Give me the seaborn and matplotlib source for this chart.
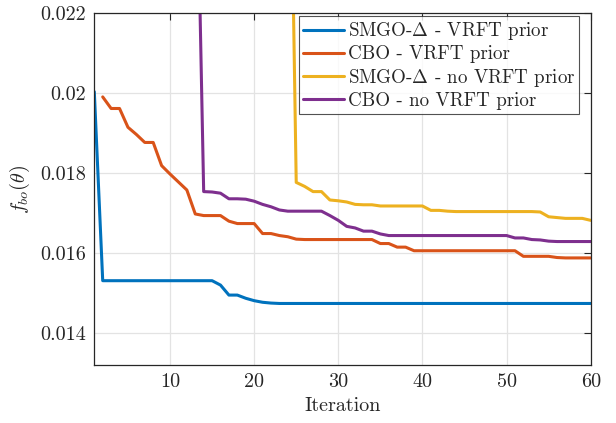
import numpy as np
import pandas as pd
import matplotlib
matplotlib.use("Agg")
import matplotlib.pyplot as plt
import seaborn as sns
from matplotlib.lines import Line2D

# ---- data ----
x_blue = list(range(1, 61))
y_blue = [0.02003,
          0.01530, 0.01530, 0.01530, 0.01530, 0.01530, 0.01530, 0.01530,
          0.01530, 0.01530, 0.01530, 0.01530, 0.01530, 0.01530, 0.01530,
          0.01519, 0.01494, 0.01494, 0.01486, 0.01480, 0.01476, 0.01474,
          0.01473, 0.01473, 0.01473, 0.01473, 0.01473, 0.01473, 0.01473,
          0.01473, 0.01473, 0.01473, 0.01473, 0.01473, 0.01473, 0.01473,
          0.01473, 0.01473, 0.01473, 0.01473, 0.01473, 0.01473, 0.01473,
          0.01473, 0.01473, 0.01473, 0.01473, 0.01473, 0.01473, 0.01473,
          0.01473, 0.01473, 0.01473, 0.01473, 0.01473, 0.01473, 0.01473,
          0.01473, 0.01473, 0.01473]

x_orange = list(range(2, 61))
y_orange = [0.01990, 0.01961, 0.01961, 0.01914, 0.01896, 0.01876, 0.01876,
            0.01818, 0.01797, 0.01777, 0.01757, 0.01697, 0.01693, 0.01693,
            0.01693, 0.01679, 0.01673, 0.01673, 0.01673, 0.01648, 0.01648,
            0.01643, 0.01640, 0.01634,
            0.01633, 0.01633, 0.01633, 0.01633, 0.01633, 0.01633, 0.01633,
            0.01633, 0.01633,
            0.01623, 0.01623, 0.01614, 0.01614,
            0.01605, 0.01605, 0.01605, 0.01605, 0.01605, 0.01605, 0.01605,
            0.01605, 0.01605, 0.01605, 0.01605, 0.01605, 0.01605,
            0.01591, 0.01591, 0.01591, 0.01591, 0.01588,
            0.01587, 0.01587, 0.01587, 0.01587]

x_yellow = list(range(24, 61))
y_yellow = [0.03100, 0.01776, 0.01766, 0.01753, 0.01753, 0.01732, 0.01730,
            0.01727, 0.01721, 0.01720, 0.01720,
            0.01717, 0.01717, 0.01717, 0.01717, 0.01717, 0.01717,
            0.01706, 0.01706, 0.01704,
            0.01703, 0.01703, 0.01703, 0.01703, 0.01703, 0.01703, 0.01703,
            0.01703, 0.01703, 0.01703, 0.01702,
            0.01690, 0.01688, 0.01686, 0.01686, 0.01686, 0.01681]

x_purple = list(range(13, 61))
y_purple = [0.02800, 0.01753, 0.01752, 0.01749, 0.01735, 0.01735, 0.01734,
            0.01729, 0.01721, 0.01715, 0.01707,
            0.01704, 0.01704, 0.01704, 0.01704, 0.01704,
            0.01693, 0.01681, 0.01666, 0.01662, 0.01654, 0.01654, 0.01647,
            0.01643, 0.01643, 0.01643, 0.01643, 0.01643, 0.01643, 0.01643,
            0.01643, 0.01643, 0.01643, 0.01643, 0.01643, 0.01643, 0.01643,
            0.01643,
            0.01637, 0.01637, 0.01633, 0.01632, 0.01629,
            0.01628, 0.01628, 0.01628, 0.01628, 0.01628]

labels = [r"SMGO-$\Delta$ - VRFT prior", "CBO - VRFT prior",
          r"SMGO-$\Delta$ - no VRFT prior", "CBO - no VRFT prior"]
colors = ["#0072BD", "#D95319", "#EDB120", "#7E2F8E"]
x_ticks = [10, 20, 30, 40, 50, 60]
y_ticks = [0.014, 0.016, 0.018, 0.020, 0.022]
y_tick_labels = ["0.014", "0.016", "0.018", "0.02", "0.022"]

df = pd.concat([
    pd.DataFrame({"Iteration": x_blue, "f": y_blue, "method": labels[0]}),
    pd.DataFrame({"Iteration": x_orange, "f": y_orange, "method": labels[1]}),
    pd.DataFrame({"Iteration": x_yellow, "f": y_yellow, "method": labels[2]}),
    pd.DataFrame({"Iteration": x_purple, "f": y_purple, "method": labels[3]}),
], ignore_index=True)

sns.set_style("white")
plt.rcParams["font.family"] = ["cmr10", "DejaVu Serif"]
plt.rcParams["mathtext.fontset"] = "cm"
plt.rcParams["axes.formatter.use_mathtext"] = True
plt.rcParams["axes.unicode_minus"] = False

fig = plt.figure(figsize=(6.16, 4.23), dpi=100)
ax = fig.add_axes([94.3 / 616, 1 - 365 / 423, (590.7 - 94.3) / 616, (365 - 13) / 423])

sns.lineplot(data=df, x="Iteration", y="f", hue="method", hue_order=labels,
             palette=colors, linewidth=2.2, ax=ax, legend=False, sort=True,
             estimator=None)

ax.set_xlim(1, 60)
ax.set_ylim(0.01319, 0.022)
ax.set_xticks(x_ticks)
ax.set_xticklabels([str(t) for t in x_ticks])
ax.set_yticks(y_ticks)
ax.set_yticklabels(y_tick_labels)
ax.grid(True, color="#e3e3e3", linewidth=0.9)
ax.set_axisbelow(True)
for s in ax.spines.values():
    s.set_color("#262626")
    s.set_linewidth(0.9)
    s.set_visible(True)
ax.tick_params(direction="in", length=5, width=0.8, color="#262626",
               top=True, right=True, labelsize=14.5, labelcolor="#262626",
               pad=6)

ax.set_xlabel("Iteration", fontsize=14.5, color="#262626", labelpad=4)
ax.set_ylabel(r"$f_{bo}(\theta)$", fontsize=14.5, color="#262626", labelpad=6)

handles = [Line2D([], [], color=c, linewidth=2.2) for c in colors]
leg = ax.legend(handles, labels, loc="upper right",
                bbox_to_anchor=(0.977, 0.9915), borderaxespad=0,
                fontsize=13.7, frameon=True, fancybox=False,
                handlelength=2.15, handletextpad=0.2, labelspacing=0.17,
                borderpad=0.22)
leg.get_frame().set_edgecolor("#262626")
leg.get_frame().set_linewidth(0.8)
for t in leg.get_texts():
    t.set_color("#262626")

fig.savefig("out.png", dpi=100)
